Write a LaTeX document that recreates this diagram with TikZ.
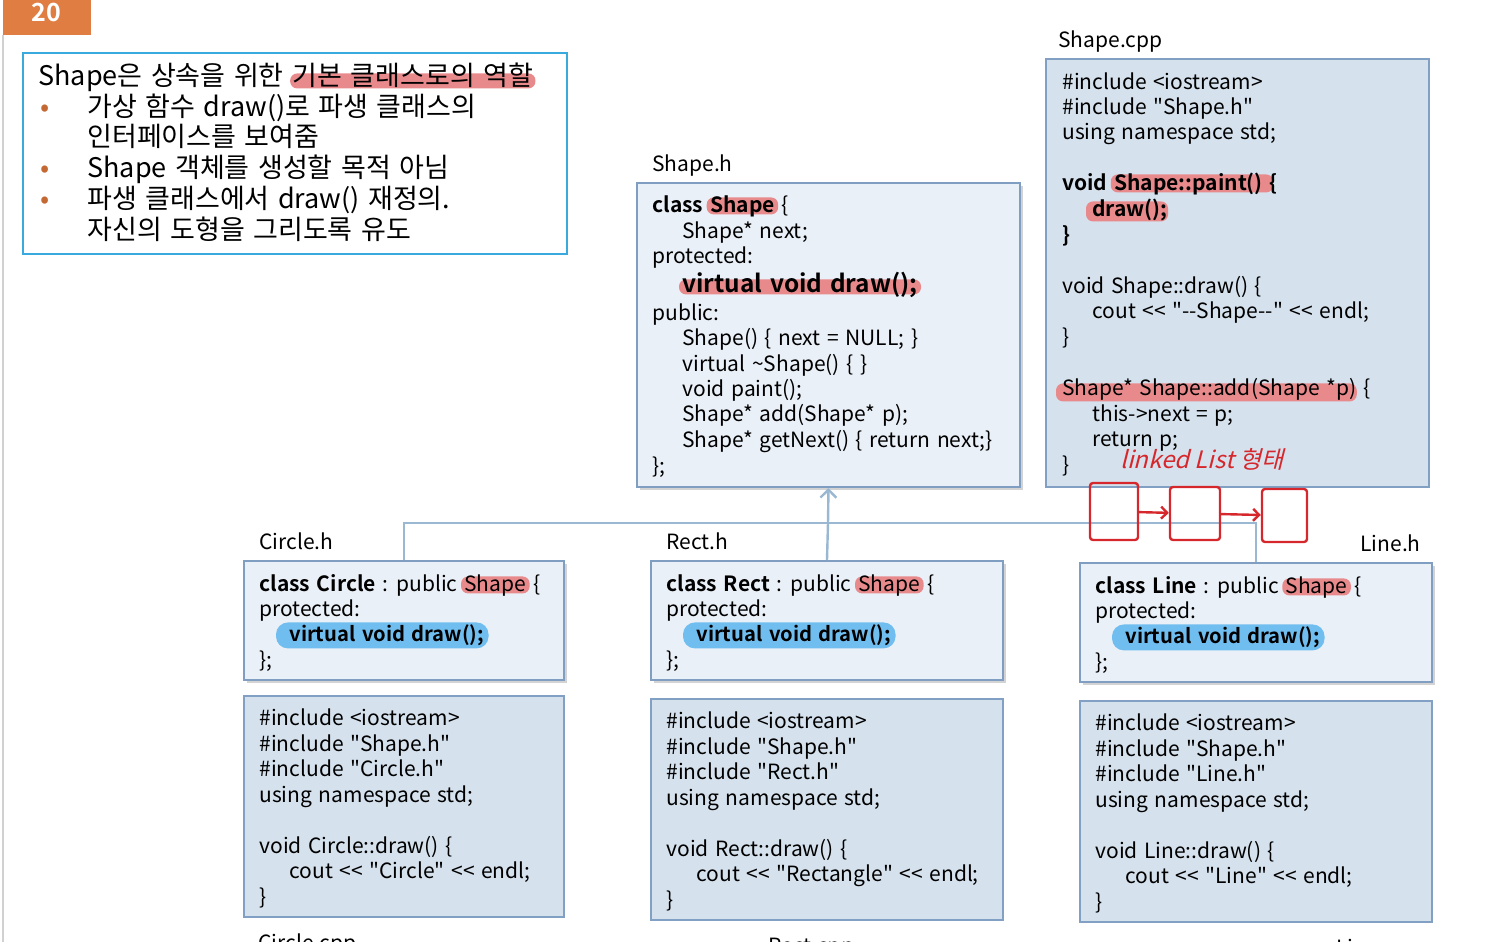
\documentclass[tikz,border=0pt]{standalone}
\usepackage{fontspec}
\setmainfont{Noto Sans CJK KR}[BoldFont={Noto Sans CJK KR Bold}, WordSpace=1.4]
\newfontfamily\handfont{Noto Sans CJK KR}[FakeSlant=0.25]
\usetikzlibrary{positioning,fit,shadows,arrows.meta,backgrounds}

\definecolor{tabOrange}{RGB}{224,125,66}
\definecolor{noteBlue}{RGB}{56,170,222}
\definecolor{hFill}{RGB}{234,240,248}
\definecolor{hLine}{RGB}{128,158,194}
\definecolor{cppFill}{RGB}{213,225,237}
\definecolor{cppLine}{RGB}{130,160,196}
\definecolor{markRed}{RGB}{232,138,140}
\definecolor{markBlue}{RGB}{112,190,240}
\definecolor{busBlue}{RGB}{155,184,210}
\definecolor{penRed}{RGB}{214,40,44}
\definecolor{bulletOrange}{RGB}{196,104,52}

\newcommand\codefont{\fontsize{10.5}{12}\selectfont}
\newcommand\notefont{\fontsize{13.5}{15}\selectfont}
\newcommand\dq{\textquotedbl}

\pgfdeclarelayer{marks}
\pgfsetlayers{background,marks,main}

\tikzset{
  hfile/.style={draw=hLine, fill=hFill, line width=1pt, inner sep=0pt,
    drop shadow={shadow xshift=1.5pt, shadow yshift=-1.5pt, opacity=.35}},
  cppfile/.style={draw=cppLine, fill=cppFill, line width=1pt, inner sep=0pt},
  code/.style={anchor=mid west, inner sep=0pt, yshift=-1.5pt, font=\codefont},
  piece/.style={anchor=base west, inner sep=0pt, xshift=3pt, font=\codefont},
  note/.style={anchor=mid west, inner sep=0pt, yshift=-2pt, font=\notefont},
  notepiece/.style={anchor=base west, inner sep=0pt, xshift=4pt, font=\notefont},
  dot/.style={anchor=mid west, inner sep=0pt, yshift=-2pt, font=\notefont, text=bulletOrange},
  redmark/.style={fill=markRed, rounded corners=3.5pt},
  bluemark/.style={fill=markBlue, rounded corners=6pt},
  inherit/.style={draw=busBlue, line width=1.2pt},
  pen/.style={draw=penRed, line width=1.2pt, line cap=round, line join=round},
  handbox/.style={pen, inner sep=0pt, rounded corners=1.5pt},
}

\begin{document}
\begin{tikzpicture}[x=0.5pt, y=-0.5pt]
    \useasboundingbox (0,0) rectangle (1495,942);
    \clip (0,0) rectangle (1495,942);

    % 페이지 번호 탭과 왼쪽 테두리
    \draw[black!18, line width=1pt] (3,35) -- (3,942);
    \node[fill=tabOrange, inner sep=0pt, fit={(3,0) (91,35)}] (tab) {};
    \node[text=white, font=\fontsize{12.5}{14}\selectfont\bfseries] (tabnum) at (46,12) {20};

    % 설명 상자
    \begin{pgfonlayer}{background}
        \node[draw=noteBlue, fill=white, line width=1.2pt, inner sep=0pt, fit={(23,53) (567,254)}] (notebox) {};
    \end{pgfonlayer}
    \node[note] (n1) at (38,76) {Shape은 상속을 위한};
    \node[notepiece] (n1w) at (n1.base east) {기본 클래스로의 역할};
    \node[dot] (d2) at (40,107) {•};
    \node[note] (n2) at (87,107) {가상 함수 draw()로 파생 클래스의};
    \node[note] (n3) at (87,137) {인터페이스를 보여줌};
    \node[dot] (d4) at (40,168) {•};
    \node[note] (n4) at (87,168) {Shape 객체를 생성할 목적 아님};
    \node[dot] (d5) at (40,199) {•};
    \node[note] (n5) at (87,199) {파생 클래스에서 draw() 재정의.};
    \node[note] (n6) at (87,230) {자신의 도형을 그리도록 유도};

    % Shape.h
    \begin{pgfonlayer}{background}
        \node[hfile, fit={(637,183) (1020,487)}] (shape-h) {};
    \end{pgfonlayer}
    \node[code] (shape-hname) at (652,163) {Shape.h};
    \node[code] (sh1a) at (652,204) {\textbf{class}};
    \node[piece] (sh1b) at (sh1a.base east) {\textbf{Shape}};
    \node[piece] (sh1c) at (sh1b.base east) {\{};
    \foreach \x/\y/\t [count=\i] in {
        682/230/{Shape* next;},
        652/255/{protected:},
        652/312/{public:},
        682/337/{Shape() \{ next = NULL; \}},
        682/363/{virtual \textasciitilde Shape() \{ \}},
        682/388/{void paint();},
        682/413/{Shape* add(Shape* p);},
        682/439/{Shape* getNext() \{ return next;\}},
        652/465/{\};}}
        \node[code] (sh\i) at (\x,\y) {\t};
    \node[code, font=\fontsize{12.2}{14}\selectfont\bfseries] (shdraw) at (682,284) {virtual void draw();};

    % Shape.cpp
    \begin{pgfonlayer}{background}
        \node[cppfile, fit={(1046,59) (1429,487)}] (shape-cpp) {};
    \end{pgfonlayer}
    \node[code] (shape-cname) at (1058,39) {Shape.cpp};
    \foreach \x/\y/\t [count=\i] in {
        1062/81/{\#include <iostream>},
        1062/106/{\#include \dq Shape.h\dq},
        1062/131/{using namespace std;},
        1062/234/{\textbf{\}}},
        1062/285/{void Shape::draw() \{},
        1092/310/{cout <{}< \dq-{}-Shape-{}-\dq\ <{}< endl;},
        1062/336/{\}},
        1092/413/{this->next = p;},
        1092/438/{return p;},
        1062/464/{\}}}
        \node[code] (sc\i) at (\x,\y) {\t};
    \node[code] (paint1) at (1062,182) {\textbf{void}};
    \node[piece] (paint2) at (paint1.base east) {\textbf{Shape::paint()}};
    \node[piece] (paint3) at (paint2.base east) {\textbf{\{}};
    \node[code] (paintdraw) at (1092,208) {\textbf{draw();}};
    \node[code] (add1) at (1062,387) {Shape* Shape::add(Shape *p)};
    \node[piece] (add2) at (add1.base east) {\{};

    % 파생 클래스: 헤더와 구현
    \foreach \cls/\x/\r/\yh/\yc/\msg/\lh/\lc in {
        Circle/244/564/561/696/Circle/259/258,
        Rect/651/1003/561/699/Rectangle/666/768,
        Line/1080/1432/563/701/Line/1360/1336}
    {
        \begin{pgfonlayer}{background}
            \node[hfile, fit={(\x,\yh) (\r,\yh+119)}] (\cls-h) {};
            \node[cppfile, fit={(\x,\yc) (\r,\yc+221)}] (\cls-cpp) {};
        \end{pgfonlayer}
        \node[code] (\cls-hname) at (\lh,\yh-20) {\cls.h};
        \node[code] (\cls-cname) at (\lc,\yc+246) {\cls.cpp};
        \node[code] (\cls-l1a) at (\x+15,\yh+22) {\textbf{class \cls} : public};
        \node[piece] (\cls-l1b) at (\cls-l1a.base east) {Shape};
        \node[piece] (\cls-l1c) at (\cls-l1b.base east) {\{};
        \node[code] (\cls-l2) at (\x+15,\yh+47) {protected:};
        \node[code, font=\fontsize{10.1}{12}\selectfont\bfseries] (\cls-l3) at (\x+45,\yh+72) {virtual void draw();};
        \node[code] (\cls-l4) at (\x+15,\yh+98) {\};};
        \foreach \dx/\dy/\t [count=\i] in {
            15/21/{\#include <iostream>},
            15/47/{\#include \dq Shape.h\dq},
            15/72/{\#include \dq\cls.h\dq},
            15/98/{using namespace std;},
            15/149/{void \cls::draw() \{},
            45/174/{cout <{}< \dq\msg\dq\ <{}< endl;},
            15/200/{\}}}
            \node[code] (\cls-c\i) at (\x+\dx,\yc+\dy) {\t};
        \begin{pgfonlayer}{marks}
            \fill[redmark] ([xshift=-1.5pt,yshift=-1pt]\cls-l1b.base west) rectangle ([xshift=1.5pt,yshift=7.5pt]\cls-l1b.base east);
            \fill[bluemark] ([xshift=-6.5pt,yshift=-3.5pt]\cls-l3.base west) rectangle ([xshift=2pt,yshift=9.5pt]\cls-l3.base east);
        \end{pgfonlayer}
    }

    % 강조 표시
    \begin{pgfonlayer}{marks}
        \fill[redmark] ([xshift=-1pt,yshift=-1.5pt]n1w.base west) rectangle ([xshift=1pt,yshift=6pt]n1w.base east);
        \fill[redmark] ([xshift=-1.5pt,yshift=-1pt]sh1b.base west) rectangle ([xshift=1.5pt,yshift=7.5pt]sh1b.base east);
        \fill[redmark] ([xshift=-1.5pt,yshift=-1pt]shdraw.base west) rectangle ([xshift=1.5pt,yshift=6.5pt]shdraw.base east);
        \fill[redmark] ([xshift=-1.5pt,yshift=-1pt]paint2.base west) rectangle ([xshift=5pt,yshift=8pt]paint2.base east);
        \fill[redmark] ([xshift=-3pt,yshift=-2.5pt]paintdraw.base west) rectangle ([xshift=0pt,yshift=7.5pt]paintdraw.base east);
        \fill[redmark] ([xshift=-3pt,yshift=-3pt]add1.base west) rectangle ([xshift=0pt,yshift=6pt]add1.base east);
    \end{pgfonlayer}

    % 상속 연결선
    \coordinate (bus) at (828,523);
    \draw[inherit] (Circle-h.north) |- (bus);
    \draw[inherit] (Line-h.north) |- (bus);
    \draw[inherit] (Rect-h.north) -- (bus);
    \draw[inherit, -{Straight Barb[length=4pt, width=8pt]}] (bus) -- (shape-h.south);

    % 손글씨 메모: linked list
    \node[anchor=mid west, inner sep=0pt, text=penRed, font=\handfont\fontsize{12}{14}\selectfont] (lktext) at (1120,463) {linked List 형태};
    \node[handbox, fit={(1090,483) (1138,540)}] (lk1) {};
    \node[handbox, fit={(1170,487) (1220,540)}] (lk2) {};
    \node[handbox, fit={(1262,489) (1307,542)}] (lk3) {};
    \draw[pen, -{Straight Barb[length=3pt, width=6pt]}] (lk1) -- (lk2);
    \draw[pen, -{Straight Barb[length=3pt, width=6pt]}] (lk2) -- (lk3);

\end{tikzpicture}
\end{document}
